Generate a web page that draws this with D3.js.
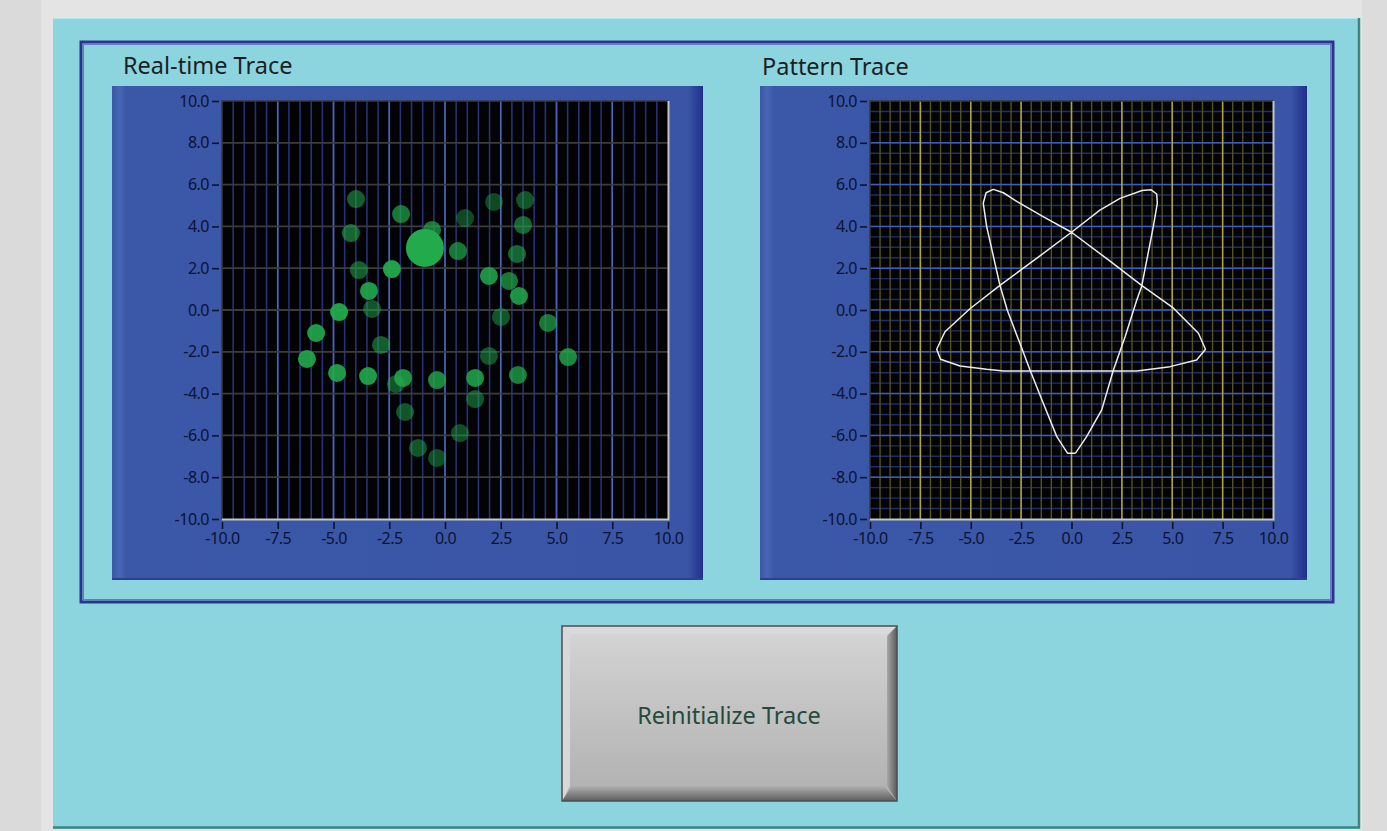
<!DOCTYPE html>
<html>
<head>
<meta charset="utf-8">
<script src="https://cdn.jsdelivr.net/npm/d3@7"></script>
<style>
  body { margin: 0; background: #dcdcdc; overflow: hidden; }
  svg { display: block; }
  .tick text { font-family: "Noto Sans", sans-serif; font-size: 16px; fill: #0a1334; letter-spacing: -0.5px; }
  .tick line { stroke: #0a1334; stroke-width: 1.6; }
</style>
</head>
<body>
<svg id="panel" width="1387" height="831"></svg>
<script>
// --- real-time trace points (x, y, brightness) ---
const traceX = [-3.99, -1.97, -4.22, -0.58, 0.90, 2.20, 3.59, 3.50, 0.58, 3.23,
  -3.86, -2.38, -3.41, 1.97, 2.87, 3.32, -3.27, -4.75, -5.78, -6.19,
  -2.87, 4.62, 2.51, 5.52, 1.97, -4.84, -3.45, -2.20, -1.88, -0.36,
  1.35, 3.27, 1.35, -1.79, 0.67, -1.21, -0.36, -0.90];
const traceY = [5.31, 4.59, 3.68, 3.83, 4.40, 5.17, 5.26, 4.07, 2.82, 2.68,
  1.91, 1.96, 0.91, 1.63, 1.39, 0.67, 0.05, -0.10, -1.10, -2.34,
  -1.67, -0.62, -0.33, -2.25, -2.20, -3.01, -3.16, -3.54, -3.25, -3.35,
  -3.25, -3.11, -4.26, -4.88, -5.89, -6.60, -7.08, 2.97];
const traceAlpha = [0.55, 0.7, 0.6, 0.7, 0.42, 0.42, 0.5, 0.6, 0.7, 0.6,
  0.55, 0.95, 0.9, 0.85, 0.7, 0.85, 0.5, 0.95, 0.9, 0.9,
  0.55, 0.7, 0.5, 0.8, 0.5, 0.9, 0.9, 0.5, 0.85, 0.8,
  0.85, 0.75, 0.5, 0.5, 0.45, 0.5, 0.45, 1.0];
const traceSize = [9, 9, 9, 9, 9, 9, 9, 9, 9, 9,
  9, 9, 9, 9, 9, 9, 9, 9, 9, 9,
  9, 9, 9, 9, 9, 9, 9, 9, 9, 9,
  9, 9, 9, 9, 9, 9, 9, 19];

// --- pattern trace curve ---
const patternX = [0.2, 0.75, 1.5, 2.08, 2.66, 3.24, 3.48, 4.06, 4.26, 4.23,
  3.95, 3.5, 2.41, 1.41, 0, -1.8, -3.55, -5.04, -6.28, -6.69,
  -6.5, -5.53, -4.21, -3.38, 3.24, 4.89, 6.21, 6.65, 6.3, 5.05,
  3.48, 1.8, 0, -1.41, -2.72, -3.38, -3.88, -4.24, -4.38, -4.21,
  -3.55, -3.19, -2.5, -2.06, -1.4, -0.73, -0.2, 0.2];
const patternY = [-6.85, -6.06, -4.78, -2.87, -1.28, 0.48, 1.12, 3.99, 5.11, 5.55,
  5.75, 5.72, 5.34, 4.78, 3.72, 2.42, 1.18, 0.06, -1.04, -1.88,
  -2.36, -2.68, -2.84, -2.92, -2.92, -2.71, -2.39, -1.88, -1.11, 0.1,
  1.18, 2.42, 3.72, 4.47, 5.2, 5.61, 5.77, 5.61, 5.11, 3.99,
  1.18, 0.0, -1.75, -2.87, -4.46, -6.06, -6.85, -6.85];

const xTicks = [-10, -7.5, -5, -2.5, 0, 2.5, 5, 7.5, 10];
const yTicks = [-10, -8, -6, -4, -2, 0, 2, 4, 6, 8, 10];

const svg = d3.select("#panel");
const defs = svg.append("defs");

function hGrad(id, stops) {
  const g = defs.append("linearGradient").attr("id", id);
  stops.forEach((s) => g.append("stop").attr("offset", s[0]).attr("stop-color", s[1]));
}
function vGrad(id, stops) {
  const g = defs.append("linearGradient").attr("id", id)
    .attr("x1", 0).attr("y1", 0).attr("x2", 0).attr("y2", 1);
  stops.forEach((s) => g.append("stop").attr("offset", s[0]).attr("stop-color", s[1]));
}
hGrad("blueL", [[0, "#3a56a6"], [0.012, "#4866b4"], [0.025, "#3b57a7"], [0.975, "#3a55a5"], [1, "#1f2e8e"]]);
hGrad("blueR", [[0, "#3a56a6"], [0.012, "#4866b4"], [0.025, "#3b57a7"], [0.97, "#3a55a5"], [1, "#1f2e8e"]]);
vGrad("btnFace", [[0, "#d6d6d6"], [0.15, "#cfcfcf"], [0.5, "#c2c2c2"], [1, "#b0b0b0"]]);
vGrad("btnBottom", [[0, "#b0b0b0"], [1, "#5e5e5e"]]);
hGrad("btnRight", [[0, "#a8a8a8"], [1, "#5a5a5a"]]);

// background and cyan panel
svg.append("rect").attr("x", 41).attr("y", 0).attr("width", 1346).attr("height", 831).attr("fill", "#e4e4e4");
svg.append("rect").attr("x", 0).attr("y", 0).attr("width", 41).attr("height", 831).attr("fill", "#dadada");
svg.append("rect").attr("x", 1362).attr("y", 0).attr("width", 25).attr("height", 831).attr("fill", "#dcdcdc");
svg.append("rect").attr("x", 53).attr("y", 18).attr("width", 1307).attr("height", 811).attr("fill", "#8dd5de");
svg.append("line").attr("x1", 53).attr("x2", 1358).attr("y1", 18.5).attr("y2", 18.5).attr("stroke", "#b4e6ec");
svg.append("path").attr("d", "M1359,18V827.5H53").attr("fill", "none").attr("stroke", "#3d8584").attr("stroke-width", 2.5);

// inner frame
svg.append("rect").attr("x", 81).attr("y", 42).attr("width", 1252).attr("height", 560)
  .attr("fill", "none").attr("stroke", "#2b3590").attr("stroke-width", 3);
svg.append("rect").attr("x", 83.5).attr("y", 44.5).attr("width", 1247).attr("height", 555)
  .attr("fill", "none").attr("stroke", "#6a78c8").attr("stroke-width", 1);

function drawGraph(opt) {
  const g = svg.append("g");
  g.append("text").attr("x", opt.titleX).attr("y", opt.titleY).text(opt.title)
    .attr("font-family", "'Noto Sans', sans-serif").attr("font-size", 23.5).attr("fill", "#1b1f24");

  g.append("rect").attr("x", opt.px).attr("y", 86).attr("width", opt.pw).attr("height", 494)
    .attr("fill", `url(#${opt.grad})`);
  g.append("line").attr("x1", opt.px).attr("x2", opt.px + opt.pw).attr("y1", 579).attr("y2", 579)
    .attr("stroke", "#2c3f94").attr("stroke-width", 2);

  const x = d3.scaleLinear().domain([-10, 10]).range([opt.x0, opt.x1]);
  const y = d3.scaleLinear().domain([-10, 10]).range([519, 101]);

  g.append("rect").attr("x", opt.x0).attr("y", 101).attr("width", opt.x1 - opt.x0).attr("height", 418)
    .attr("fill", "#030303");

  const grid = g.append("g");
  opt.grid.forEach((s) => {
    const vals = d3.range(-10, 10.001, s.step).filter((v) => v > -10 && v < 10);
    grid.selectAll(null).data(vals).enter().append("line")
      .attr(s.dir === "v" ? "x1" : "y1", (d) => (s.dir === "v" ? x(d) : y(d)))
      .attr(s.dir === "v" ? "x2" : "y2", (d) => (s.dir === "v" ? x(d) : y(d)))
      .attr(s.dir === "v" ? "y1" : "x1", s.dir === "v" ? 101 : opt.x0)
      .attr(s.dir === "v" ? "y2" : "x2", s.dir === "v" ? 519 : opt.x1)
      .attr("stroke", s.color).attr("stroke-width", s.width);
  });

  // plot border
  g.append("path").attr("d", `M${opt.x0},519V101H${opt.x1}`).attr("fill", "none")
    .attr("stroke", "#3a3a3a").attr("stroke-width", 1.5);
  g.append("path").attr("d", `M${opt.x0},519.5H${opt.x1 + 0.5}V101`).attr("fill", "none")
    .attr("stroke", "#c6c6c6").attr("stroke-width", 2);

  const fmt = (d) => d.toFixed(1);
  g.append("g").attr("transform", `translate(${opt.x0 - 3},0)`)
    .call(d3.axisLeft(y).tickValues(yTicks).tickFormat(fmt).tickSize(7).tickPadding(3))
    .call((a) => a.select(".domain").remove());
  g.append("g").attr("transform", "translate(0,522)")
    .call(d3.axisBottom(x).tickValues(xTicks).tickFormat(fmt).tickSize(7).tickPadding(4))
    .call((a) => a.select(".domain").remove());
  g.selectAll(".tick text").attr("font-family", null).attr("font-size", null).attr("fill", null);

  return { g, x, y };
}

const left = drawGraph({
  title: "Real-time Trace", titleX: 123, titleY: 74, px: 112, pw: 591, grad: "blueL",
  x0: 222, x1: 668,
  grid: [
    { dir: "v", step: 0.5, color: "#25317a", width: 1.6 },
    { dir: "v", step: 2.5, color: "#4a64bc", width: 1.6 },
    { dir: "h", step: 2, color: "#3c3c3c", width: 1.8 },
  ],
});

const pts = d3.range(traceX.length);
left.g.append("g").selectAll("circle").data(pts).enter().append("circle")
  .attr("cx", (i) => left.x(traceX[i]))
  .attr("cy", (i) => left.y(traceY[i]))
  .attr("r", (i) => traceSize[i])
  .attr("fill", "#22aa4c")
  .attr("fill-opacity", (i) => traceAlpha[i]);

const right = drawGraph({
  title: "Pattern Trace", titleX: 762, titleY: 75, px: 760, pw: 547, grad: "blueR",
  x0: 870, x1: 1273,
  grid: [
    { dir: "h", step: 0.5, color: "#1f2c74", width: 1.4 },
    { dir: "v", step: 0.5, color: "#525222", width: 1.4 },
    { dir: "h", step: 2, color: "#3a5cc4", width: 1.5 },
    { dir: "v", step: 2.5, color: "#aea63c", width: 1.5 },
  ],
});

const line = d3.line()
  .x((i) => right.x(patternX[i]))
  .y((i) => right.y(patternY[i]));
right.g.append("path").datum(d3.range(patternX.length)).attr("d", line)
  .attr("fill", "none").attr("stroke", "#ececec").attr("stroke-width", 1.5)
  .attr("stroke-linejoin", "round");

// button
const btn = svg.append("g");
btn.append("rect").attr("x", 562).attr("y", 626).attr("width", 335).attr("height", 175)
  .attr("fill", "url(#btnFace)");
btn.append("path").attr("d", "M562,626H897L887,634H570Z").attr("fill", "#dadada");
btn.append("path").attr("d", "M562,626L570,634V786L562,801Z").attr("fill", "#d8d8d8");
btn.append("path").attr("d", "M562,801L572,786H884L897,801Z").attr("fill", "url(#btnBottom)");
btn.append("path").attr("d", "M897,626L887,636V786L897,801Z").attr("fill", "url(#btnRight)");
btn.append("rect").attr("x", 562).attr("y", 626).attr("width", 335).attr("height", 175)
  .attr("fill", "none").attr("stroke", "#4e4e4e").attr("stroke-width", 1.5);
btn.append("text").attr("x", 729).attr("y", 724).attr("text-anchor", "middle")
  .text("Reinitialize Trace")
  .attr("font-family", "'Noto Sans', sans-serif").attr("font-size", 23.5).attr("fill", "#264a3c");
</script>
</body>
</html>
